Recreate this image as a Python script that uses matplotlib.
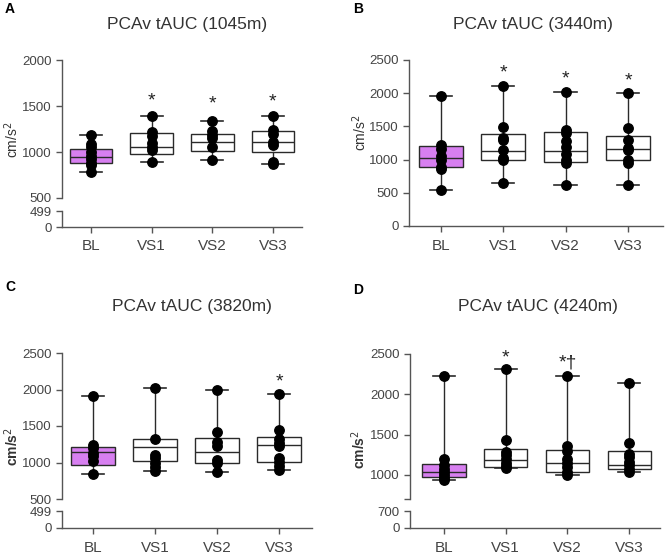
import matplotlib
matplotlib.use("Agg")
import matplotlib.pyplot as plt

plt.rcParams['font.family'] = ['Liberation Sans', 'DejaVu Sans']

categories = ["BL", "VS1", "VS2", "VS3"]

# ---- Panel A (1045m) ----
A_q1 = [877, 982, 1011, 1000]
A_med = [941, 1050, 1109, 1109]
A_q3 = [1036, 1210, 1199, 1231]
A_lo = [786, 887, 913, 870]
A_hi = [1180, 1395, 1340, 1387]
A_points = [
    [1180, 1083, 1050, 1000, 960, 920, 880, 860, 786],
    [1395, 1217, 1177, 1098, 1054, 1025, 887],
    [1340, 1224, 1188, 1150, 1054, 913],
    [1387, 1235, 1200, 1110, 1080, 890, 870],
]
A_stars = ["", "*", "*", "*"]
A_star_y = [0, 1560, 1520, 1545]

# ---- Panel B (3440m) ----
B_q1 = [895, 1000, 970, 1000]
B_med = [1025, 1125, 1125, 1155]
B_q3 = [1205, 1380, 1410, 1350]
B_lo = [535, 655, 620, 625]
B_hi = [1965, 2115, 2025, 2000]
B_points = [
    [1965, 1225, 1160, 1050, 990, 890, 865, 535],
    [2115, 1490, 1330, 1300, 1140, 1030, 990, 655],
    [2025, 1440, 1400, 1275, 1190, 1090, 990, 950, 620],
    [2000, 1475, 1300, 1180, 1150, 990, 950, 625],
]
B_stars = ["", "*", "*", "*"]
B_star_y = [0, 2300, 2215, 2190]

# ---- Panel C (3820m) ----
C_q1 = [968, 1023, 995, 1009]
C_med = [1142, 1211, 1142, 1239]
C_q3 = [1211, 1317, 1340, 1353]
C_lo = [844, 890, 867, 894]
C_hi = [1909, 2014, 1987, 1932]
C_points = [
    [1909, 1243, 1197, 1128, 1083, 1014, 844],
    [2014, 1317, 1106, 1060, 991, 936, 890],
    [1987, 1422, 1285, 1230, 1037, 991, 867],
    [1932, 1450, 1326, 1266, 1220, 1055, 1009, 954, 894],
]
C_stars = ["", "", "", "*"]
C_star_y = [0, 0, 0, 2110]

# ---- Panel D (4240m) ----
D_q1 = [971, 1103, 1029, 1074]
D_med = [1041, 1190, 1149, 1128]
D_q3 = [1136, 1326, 1314, 1301]
D_lo = [940, 1083, 1000, 1033]
D_hi = [2227, 2309, 2227, 2136]
D_points = [
    [2227, 1202, 1120, 1078, 1037, 996, 955, 940],
    [2309, 1438, 1285, 1244, 1202, 1149, 1107, 1083],
    [2227, 1359, 1297, 1202, 1149, 1099, 1037, 1000],
    [2136, 1396, 1264, 1223, 1161, 1120, 1078, 1033],
]
D_stars = ["", "*", "*\u2020", ""]
D_star_y = [0, 2450, 2390, 0]

W, H = 666, 557
fig = plt.figure(figsize=(W / 100, H / 100), dpi=100)

LINE = "#2a2a2a"
TXT = "#444444"
FILL = "#d77ff0"


def rect(l, r, t, b):
    return [l / W, 1 - b / H, (r - l) / W, (b - t) / H]


def style_axis(ax):
    for s in ["top", "right"]:
        ax.spines[s].set_visible(False)
    for s in ["left", "bottom"]:
        ax.spines[s].set_color("#555555")
        ax.spines[s].set_linewidth(1.0)
    ax.tick_params(axis="both", colors="#555555", labelcolor=TXT,
                   labelsize=9.5, length=4, width=1.0, direction="out")


def draw_boxes(ax, q1, med, q3, lo, hi, points, stars, star_y):
    stats = []
    for i in range(len(categories)):
        stats.append(dict(q1=q1[i], med=med[i], q3=q3[i],
                          whislo=lo[i], whishi=hi[i], fliers=[]))
    bp = ax.bxp(stats, positions=range(len(categories)), widths=0.7,
                capwidths=0.36, patch_artist=True, showfliers=False,
                boxprops=dict(edgecolor=LINE, linewidth=1.0),
                medianprops=dict(color=LINE, linewidth=1.0),
                whiskerprops=dict(color=LINE, linewidth=1.0),
                capprops=dict(color=LINE, linewidth=1.2))
    for i, b in enumerate(bp["boxes"]):
        b.set_facecolor(FILL if i == 0 else "white")
        b.set_zorder(2)
    for i, pts in enumerate(points):
        ax.plot([i] * len(pts), pts, "o", color="black", ms=6.8,
                zorder=4, clip_on=False)
    for i, s in enumerate(stars):
        if s:
            ax.text(i, star_y[i], s, ha="center", va="center",
                    fontsize=14, color="#222222", clip_on=False)


def broken_panel(l, r, t_up, b_up, t_lo, b_lo, ylim_up, yticks_up,
                 ytlabels_up, ylim_lo, yticks_lo, data, xlim):
    ax = fig.add_axes(rect(l, r, t_up, b_up))
    ax2 = fig.add_axes(rect(l, r, t_lo, b_lo))
    draw_boxes(ax, *data)
    ax.set_ylim(*ylim_up)
    ax.set_xlim(*xlim)
    ax.set_yticks(yticks_up)
    ax.set_yticklabels(ytlabels_up)
    style_axis(ax)
    ax.spines["bottom"].set_visible(False)
    ax.tick_params(axis="x", bottom=False, labelbottom=False)
    ax.patch.set_alpha(0)
    ax2.set_ylim(*ylim_lo)
    ax2.set_xlim(*xlim)
    ax2.set_yticks(yticks_lo)
    ax2.set_xticks(range(len(categories)))
    ax2.set_xticklabels(categories)
    style_axis(ax2)
    ax2.tick_params(axis="x", labelsize=11, pad=5)
    ax2.patch.set_alpha(0)
    return ax, ax2


# Panel A
broken_panel(62, 302, 60, 198, 211, 227, (500, 2000),
             [500, 1000, 1500, 2000], ["500", "1000", "1500", "2000"],
             (0, 499), [0, 499],
             (A_q1, A_med, A_q3, A_lo, A_hi, A_points, A_stars, A_star_y),
             (-0.48, 3.48))

# Panel B (no break)
axB = fig.add_axes(rect(409, 663, 60, 226))
draw_boxes(axB, B_q1, B_med, B_q3, B_lo, B_hi, B_points, B_stars, B_star_y)
axB.set_ylim(0, 2500)
axB.set_xlim(-0.51, 3.56)
axB.set_yticks([0, 500, 1000, 1500, 2000, 2500])
axB.set_xticks(range(len(categories)))
axB.set_xticklabels(categories)
style_axis(axB)
axB.tick_params(axis="x", labelsize=11, pad=5)

# Panel C
broken_panel(62, 312, 353, 499, 511, 528, (500, 2500),
             [500, 1000, 1500, 2000, 2500],
             ["500", "1000", "1500", "2000", "2500"],
             (0, 499), [0, 499],
             (C_q1, C_med, C_q3, C_lo, C_hi, C_points, C_stars, C_star_y),
             (-0.5, 3.53))

# Panel D
broken_panel(410, 660, 354, 499, 511, 528, (700, 2500),
             [700, 1000, 1500, 2000, 2500],
             ["", "1000", "1500", "2000", "2500"],
             (0, 700), [0, 700],
             (D_q1, D_med, D_q3, D_lo, D_hi, D_points, D_stars, D_star_y),
             (-0.55, 3.5))

# Titles
titles = [("PCAv tAUC (1045m)", 187, 25), ("PCAv tAUC (3440m)", 533, 25),
          ("PCAv tAUC (3820m)", 192, 307), ("PCAv tAUC (4240m)", 538, 307)]
for txt, x, y in titles:
    fig.text(x / W, 1 - y / H, txt, ha="center", va="center",
             fontsize=12.5, color="#333333")

# Panel letters
for lab, x, y in [("A", 10, 9), ("B", 358, 9), ("C", 10, 287), ("D", 358, 290)]:
    fig.text(x / W, 1 - y / H, lab, ha="center", va="center",
             fontsize=10, fontweight="bold", color="black")

# Y labels
for x, y, wt in [(12, 140, "normal"), (360, 133, "normal"),
                 (12, 447, "bold"), (359, 450, "bold")]:
    fig.text(x / W, 1 - y / H, "cm/s$^2$", rotation=90, ha="center",
             va="center", fontsize=10, color="#333333", fontweight=wt)

fig.savefig("out.png", dpi=100)
